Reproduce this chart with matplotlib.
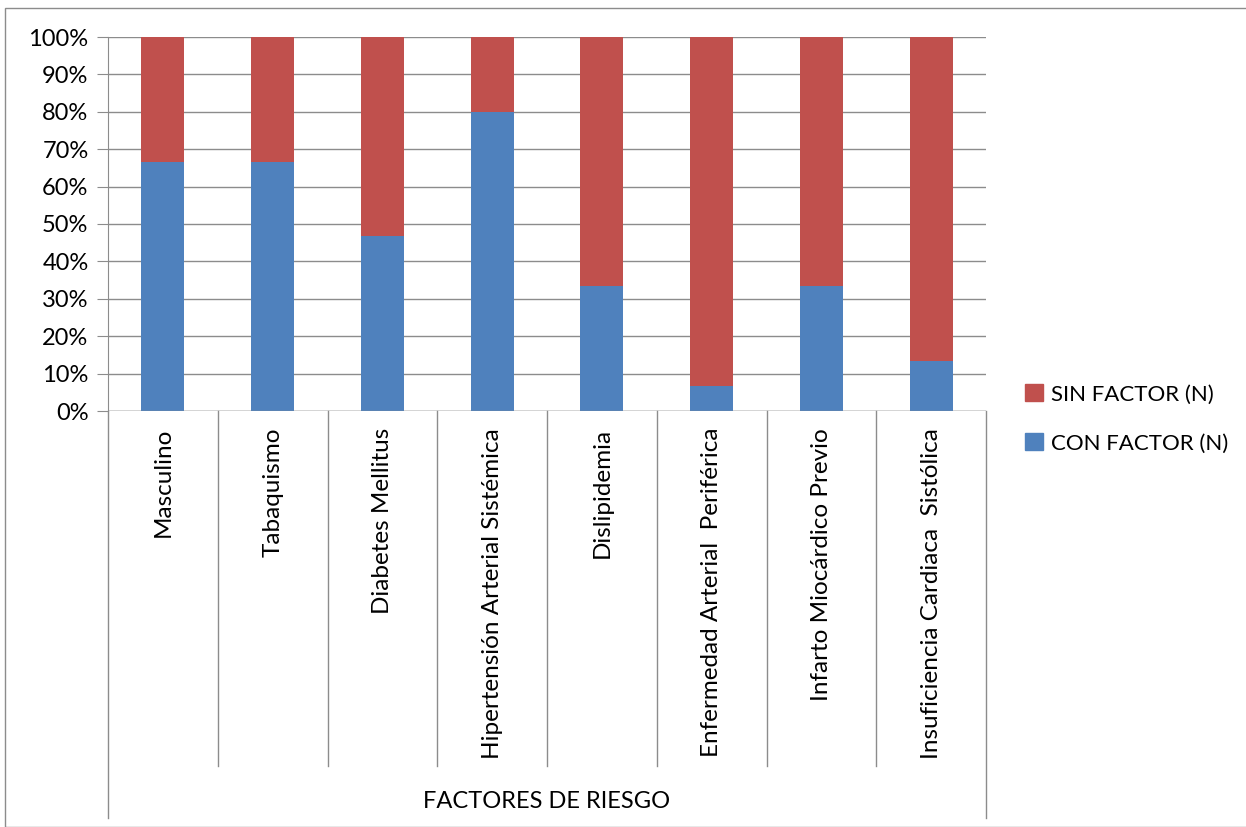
import matplotlib.pyplot as plt
import matplotlib.transforms as mtransforms
from matplotlib.patches import Rectangle, Patch

plt.rcParams['font.family'] = ['Lato', 'DejaVu Sans']

categorias = ['Masculino', 'Tabaquismo', 'Diabetes Mellitus',
              'Hipertensión Arterial Sistémica', 'Dislipidemia',
              'Enfermedad Arterial  Periférica', 'Infarto Miocárdico Previo',
              'Insuficiencia Cardiaca  Sistólica']
con_factor = [10, 10, 7, 12, 5, 1, 5, 2]
sin_factor = [5, 5, 8, 3, 10, 14, 10, 13]
yticks = [0, 10, 20, 30, 40, 50, 60, 70, 80, 90, 100]

W, H = 1246, 827
fig = plt.figure(figsize=(W / 100, H / 100), dpi=100)

# marco exterior
fig.patches.append(Rectangle((5 / W, 0), 1.1, (H - 8) / H, transform=fig.transFigure,
                             fill=False, edgecolor='#8c8c8c', lw=1))

ax = fig.add_axes([108 / W, (H - 411) / H, 878 / W, 374 / H])

tot = [c + s for c, s in zip(con_factor, sin_factor)]
pc = [100 * c / t for c, t in zip(con_factor, tot)]
ps = [100 * s / t for s, t in zip(sin_factor, tot)]
x = list(range(len(categorias)))

ax.bar(x, pc, width=0.39, color='#4F81BD', zorder=3)
ax.bar(x, ps, bottom=pc, width=0.39, color='#C0504D', zorder=3)

ax.set_xlim(-0.5, len(categorias) - 0.5)
ax.set_ylim(0, 100)
ax.set_yticks(yticks)
ax.set_yticklabels([f'{v}%' for v in yticks], fontsize=17)
ax.tick_params(axis='y', length=8, color='#8c8c8c', pad=6)
ax.tick_params(axis='x', bottom=False, labelbottom=False)
ax.grid(axis='y', color='#8c8c8c', lw=1, zorder=0)
for s in ['top', 'right', 'bottom']:
    ax.spines[s].set_visible(False)
ax.spines['left'].set_color('#8c8c8c')
ax.axhline(0, color='#8c8c8c', lw=1, zorder=4)

trans = mtransforms.blended_transform_factory(ax.transData, ax.transAxes)
n = len(categorias)
for i in range(n + 1):
    bottom = -1.088 if i in (0, n) else -0.95
    ax.plot([i - 0.5, i - 0.5], [0, bottom], transform=trans, color='#8c8c8c',
            lw=1, clip_on=False)
for i, lab in enumerate(categorias):
    ax.text(i, -0.045, lab, transform=trans, rotation=90, ha='center', va='top',
            fontsize=17.5)
ax.text(0.5, -1.045, 'FACTORES DE RIESGO', transform=ax.transAxes, ha='center',
        va='center', fontsize=17)

handles = [Patch(color='#C0504D'), Patch(color='#4F81BD')]
fig.legend(handles, ['SIN FACTOR (N)', 'CON FACTOR (N)'], loc='center left',
           bbox_to_anchor=(1025 / W, (H - 419) / H), frameon=False, fontsize=16,
           handlelength=0.8, handleheight=0.8, handletextpad=0.35, labelspacing=1.3,
           borderaxespad=0, borderpad=0)

fig.savefig('out.png', dpi=100)
